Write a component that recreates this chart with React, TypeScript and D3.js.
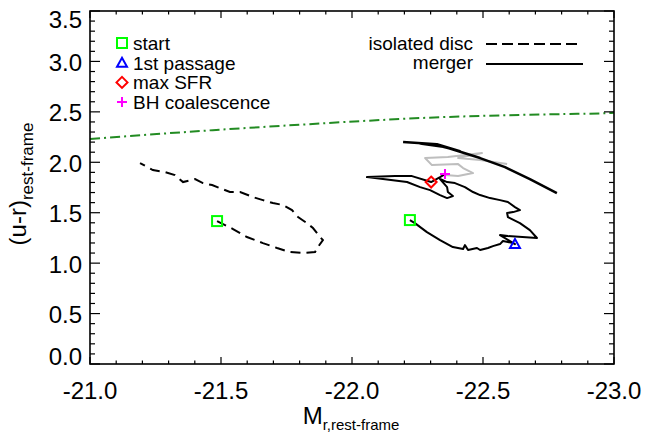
import * as d3 from "d3";

// ---- data ----
// red-sequence boundary (green dash-dot)
const redSeqMag = [-21.0, -21.42, -21.85, -22.37, -22.86, -23.0];
const redSeqCol = [2.23, 2.31, 2.38, 2.45, 2.48, 2.49];

// isolated disc track (dashed)
const discMag = [-21.485, -21.546, -21.599, -21.66, -21.714, -21.763, -21.813, -21.859, -21.87, -21.889, -21.878, -21.851, -21.828, -21.794, -21.771, -21.737, -21.698, -21.66, -21.622, -21.573, -21.534, -21.496, -21.466, -21.431, -21.401, -21.355, -21.324, -21.286, -21.24, -21.191];
const discCol = [1.417, 1.338, 1.259, 1.199, 1.15, 1.11, 1.1, 1.11, 1.16, 1.229, 1.259, 1.348, 1.397, 1.457, 1.526, 1.576, 1.596, 1.625, 1.655, 1.705, 1.705, 1.744, 1.774, 1.794, 1.834, 1.804, 1.873, 1.903, 1.923, 1.992];

// merger track, start -> BH coalescence (solid black)
const mergerMag = [-22.221, -22.24, -22.286, -22.336, -22.385, -22.424, -22.431, -22.443, -22.477, -22.489, -22.519, -22.538, -22.565, -22.576, -22.595, -22.615, -22.622, -22.565, -22.595, -22.706, -22.679, -22.641, -22.595, -22.592, -22.615, -22.641, -22.622, -22.595, -22.565, -22.527, -22.489, -22.462, -22.431, -22.393, -22.363, -22.336, -22.363, -22.366, -22.385, -22.363, -22.336, -22.298, -22.26, -22.21, -22.057, -22.164, -22.229, -22.302, -22.336, -22.355];
const mergerCol = [1.427, 1.397, 1.308, 1.229, 1.16, 1.14, 1.179, 1.13, 1.15, 1.13, 1.15, 1.169, 1.189, 1.219, 1.209, 1.199, 1.189, 1.278, 1.269, 1.249, 1.328, 1.397, 1.457, 1.497, 1.506, 1.526, 1.556, 1.606, 1.625, 1.645, 1.675, 1.705, 1.754, 1.794, 1.804, 1.834, 1.754, 1.705, 1.665, 1.645, 1.675, 1.724, 1.754, 1.804, 1.853, 1.863, 1.863, 1.804, 1.853, 1.883];

// merger remnant after coalescence (grey)
const remnantMag = [-22.355, -22.405, -22.462, -22.424, -22.405, -22.305, -22.279, -22.366, -22.496, -22.405, -22.489, -22.592];
const remnantCol = [1.873, 1.863, 1.893, 1.943, 1.982, 1.972, 2.042, 2.052, 2.091, 2.042, 2.022, 1.982];

// upper merger branch (solid black)
const upperMag = [-22.195, -22.324, -22.412, -22.336, -22.26, -22.355, -22.489, -22.584, -22.679, -22.782];
const upperCol = [2.2, 2.18, 2.111, 2.161, 2.185, 2.151, 2.042, 1.952, 1.834, 1.695];

// event markers
const startPts = [[-21.485, 1.417], [-22.221, 1.427]];
const passagePts = [[-22.622, 1.189]];
const maxSfrPts = [[-22.302, 1.804]];
const bhPts = [[-22.355, 1.883]];

const xTicks = [-21.0, -21.5, -22.0, -22.5, -23.0];
const yTicks = [0.0, 0.5, 1.0, 1.5, 2.0, 2.5, 3.0, 3.5];
const legendLabels = ["start", "1st passage", "max SFR", "BH coalescence"];

const W = 646, H = 437;
const L = 90, R = 614, T = 11, B = 364;
const FONT = "'Liberation Sans', Arial, Helvetica, sans-serif";

const zip = (a: number[], b: number[]) => a.map((v, i) => [v, b[i]] as [number, number]);

function Marker({ kind, x, y }: { kind: string; x: number; y: number }) {
  if (kind === "square")
    return <rect x={x - 5} y={y - 5} width={10} height={10} fill="none" stroke="#00ff00" strokeWidth={2} />;
  if (kind === "triangle")
    return <path d={`M${x - 5},${y + 4}L${x + 5},${y + 4}L${x},${y - 5}Z`} fill="none" stroke="#0000ff" strokeWidth={2} />;
  if (kind === "diamond")
    return <path d={`M${x},${y - 5.5}L${x + 5.5},${y}L${x},${y + 5.5}L${x - 5.5},${y}Z`} fill="none" stroke="#ff0000" strokeWidth={2} />;
  return <path d={`M${x - 5},${y}H${x + 5}M${x},${y - 5}V${y + 5}`} stroke="#ff00ff" strokeWidth={2} />;
}

export default function App() {
  const x = d3.scaleLinear().domain([-21, -23]).range([L, R]);
  const y = d3.scaleLinear().domain([0, 3.5]).range([B, T]);
  const line = d3.line<[number, number]>().x(d => x(d[0])).y(d => y(d[1]));
  const smooth = d3.line<[number, number]>().x(d => x(d[0])).y(d => y(d[1])).curve(d3.curveNatural);

  const xMinor = d3.range(0, 21).map(i => -21 - i * 0.1);
  const yMinor = d3.range(0, 36).map(i => i * 0.1);
  const kinds = ["square", "triangle", "diamond", "plus"];

  return (
    <svg width={W} height={H} style={{ position: "absolute", left: 0, top: 0, background: "#fff" }} fontFamily={FONT}>
      {/* curves */}
      <path d={smooth(zip(redSeqMag, redSeqCol)) || ""} fill="none" stroke="#228b22" strokeWidth={2} strokeDasharray="10 4 2 4" />
      <path d={line(zip(discMag, discCol)) || ""} fill="none" stroke="#000" strokeWidth={2} strokeDasharray="10 6" />
      <path d={line(zip(remnantMag, remnantCol)) || ""} fill="none" stroke="#bebebe" strokeWidth={2} strokeLinejoin="round" />
      <path d={line(zip(mergerMag, mergerCol)) || ""} fill="none" stroke="#000" strokeWidth={2} strokeLinejoin="round" />
      <path d={line(zip(upperMag, upperCol)) || ""} fill="none" stroke="#000" strokeWidth={2.5} strokeLinejoin="round" />

      {startPts.map((p, i) => <Marker key={"s" + i} kind="square" x={x(p[0])} y={y(p[1])} />)}
      {passagePts.map((p, i) => <Marker key={"t" + i} kind="triangle" x={x(p[0])} y={y(p[1])} />)}
      {maxSfrPts.map((p, i) => <Marker key={"d" + i} kind="diamond" x={x(p[0])} y={y(p[1])} />)}
      {bhPts.map((p, i) => <Marker key={"p" + i} kind="plus" x={x(p[0])} y={y(p[1])} />)}

      {/* frame + ticks */}
      <rect x={L} y={T} width={R - L} height={B - T} fill="none" stroke="#000" strokeWidth={1.6} />
      {xMinor.map((v, i) => {
        const len = i % 5 === 0 ? 7 : 3.5;
        return (
          <g key={"xm" + i} stroke="#000" strokeWidth={1.2}>
            <line x1={x(v)} x2={x(v)} y1={B} y2={B - len} />
            <line x1={x(v)} x2={x(v)} y1={T} y2={T + len} />
          </g>
        );
      })}
      {yMinor.map((v, i) => {
        const len = i % 5 === 0 ? 10 : 5;
        return (
          <g key={"ym" + i} stroke="#000" strokeWidth={1.2}>
            <line x1={L} x2={L + len} y1={y(v)} y2={y(v)} />
            <line x1={R} x2={R - len} y1={y(v)} y2={y(v)} />
          </g>
        );
      })}
      {xTicks.map(v => (
        <text key={"xl" + v} x={x(v)} y={399} fontSize={24} textAnchor="middle" fill="#000">{v.toFixed(1)}</text>
      ))}
      {yTicks.map(v => {
        const cy = Math.min(Math.max(y(v) + 1, T + 8), B - 8);
        return (
          <text key={"yl" + v} x={82} y={cy + 8.6} fontSize={24} textAnchor="end" fill="#000">{v.toFixed(1)}</text>
        );
      })}

      {/* axis titles */}
      <text x={351} y={424} fontSize={24} textAnchor="middle" fill="#000">
        M<tspan fontSize={15} dy={6}>r,rest-frame</tspan>
      </text>
      <text transform="translate(26,184) rotate(-90)" fontSize={24} textAnchor="middle" fill="#000">
        (u-r)<tspan fontSize={17} dy={7}>rest-frame</tspan>
      </text>

      {/* legend: markers */}
      {legendLabels.map((lab, i) => (
        <g key={lab}>
          <Marker kind={kinds[i]} x={122} y={43 + i * 19.7} />
          <text x={133} y={50 + i * 19.7} fontSize={19} fill="#000">{lab}</text>
        </g>
      ))}
      {/* legend: line styles */}
      <text x={473} y={50} fontSize={19} textAnchor="end" fill="#000">isolated disc</text>
      <line x1={486} x2={580} y1={44} y2={44} stroke="#000" strokeWidth={2} strokeDasharray="11 5" />
      <text x={473} y={69} fontSize={19} textAnchor="end" fill="#000">merger</text>
      <line x1={486} x2={583} y1={64} y2={64} stroke="#000" strokeWidth={2} />
    </svg>
  );
}
